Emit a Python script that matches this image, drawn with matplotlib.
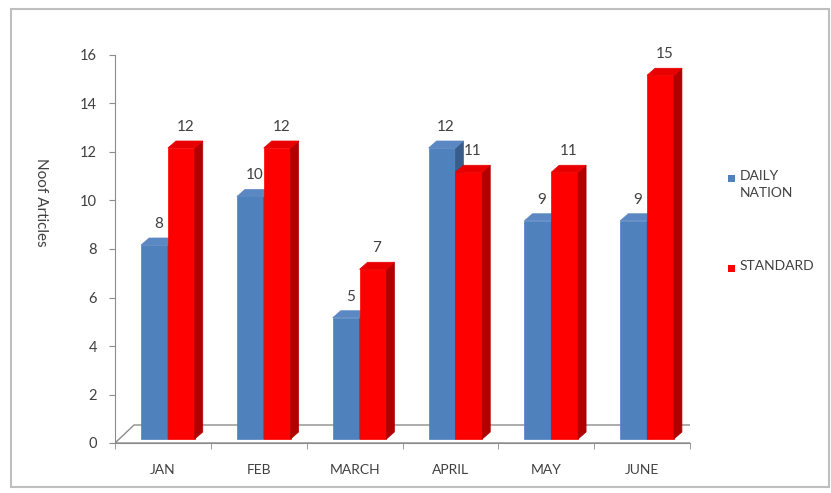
import matplotlib
matplotlib.use('Agg')
import matplotlib.pyplot as plt
from matplotlib.patches import Polygon, Rectangle

months = ['JAN', 'FEB', 'MARCH', 'APRIL', 'MAY', 'JUNE']
daily_nation = [8, 10, 5, 12, 9, 9]
standard = [12, 12, 7, 11, 11, 15]
series_names = ['DAILY\nNATION', 'STANDARD']
y_ticks = [0, 2, 4, 6, 8, 10, 12, 14, 16]

TXT = '#404040'
GRID = '#8c8c8c'
BLUE = ('#4F81BD', '#385D8A', '#5B87C2')   # front, side, top
RED = ('#FF0000', '#B00000', '#E80000')

DPI = 100
BAR_W = 0.28
SHIFT = (5, 4)      # px: bars sit a bit back on the floor
DEPTH = (8, 7)      # px: visible depth of each bar
FLOOR = (19, 18)    # px: depth of the floor


def px(ax, x, y):
    return ax.transData.transform((x, y))


def bar3d(ax, x0, h, colors):
    front, side, top = colors
    sx, sy = SHIFT
    dx, dy = DEPTH
    (ax0, ay0) = px(ax, x0, 0)
    (ax1, ay1) = px(ax, x0 + BAR_W, h)
    ax0 += sx; ax1 += sx; ay0 += sy; ay1 += sy
    faces = [
        ([(ax0, ay0), (ax1, ay0), (ax1, ay1), (ax0, ay1)], front),
        ([(ax1, ay0), (ax1 + dx, ay0 + dy), (ax1 + dx, ay1 + dy), (ax1, ay1)], side),
        ([(ax0, ay1), (ax1, ay1), (ax1 + dx, ay1 + dy), (ax0 + dx, ay1 + dy)], top),
    ]
    for verts, c in faces:
        ax.add_patch(Polygon(verts, closed=True, facecolor=c, edgecolor=c,
                             linewidth=0.5, transform=None, zorder=3))
    cx = (ax0 + ax1) / 2 + dx / 2
    fig = ax.figure
    fx, fy = fig.transFigure.inverted().transform((cx, ay1 + dy + 7))
    fig.text(fx, fy, str(h), ha='center', va='bottom', fontsize=11, color=TXT)


plt.rcParams['font.family'] = ['Lato', 'DejaVu Sans']

fig = plt.figure(figsize=(8.31, 4.93), dpi=DPI)
fig.patches.append(Rectangle((11 / 831, 6 / 493), 818 / 831, 478 / 493,
                             transform=fig.transFigure, fill=False,
                             edgecolor='#bfbfbf', linewidth=1.5))

ax = fig.add_axes([115 / 831, 1 - 443 / 493, 575 / 831, 388 / 493])
ax.set_xlim(-0.5, len(months) - 0.5)
ax.set_ylim(0, 16)
ax.patch.set_alpha(0)

for side in ['top', 'right']:
    ax.spines[side].set_visible(False)
for side in ['left', 'bottom']:
    ax.spines[side].set_color(GRID)

ax.set_yticks(y_ticks)
ax.tick_params(axis='y', colors=GRID, labelcolor=TXT, labelsize=10.5,
               length=4, pad=9)
ax.set_xticks(range(len(months)))
ax.set_xticklabels(months)
ax.set_xticks([i + 0.5 for i in range(-1, len(months))], minor=True)
ax.tick_params(axis='x', which='major', length=0, pad=15,
               labelcolor=TXT, labelsize=10)
ax.tick_params(axis='x', which='minor', length=4, colors=GRID)

ax.set_ylabel('Noof Articles', rotation=270, labelpad=22, fontsize=11, color=TXT)
ax.yaxis.set_label_coords(-0.14, 0.62)

# floor outline
fx, fy = FLOOR
(l, b) = px(ax, -0.5, 0)
(r, _) = px(ax, len(months) - 0.5, 0)
ax.add_patch(Polygon([(l, b), (r, b), (r + fx, b + fy), (l + fx, b + fy)],
                     closed=True, fill=False, edgecolor=GRID, linewidth=1,
                     transform=None, zorder=1))

for i in range(len(months)):
    bar3d(ax, i - BAR_W, daily_nation[i], BLUE)
    bar3d(ax, i, standard[i], RED)

# legend
for (ly, name, c) in [(178, series_names[0], BLUE[0]), (268, series_names[1], RED[0])]:
    fig.patches.append(Rectangle((728 / 831, 1 - (ly + 4) / 493), 7 / 831, 7 / 493,
                                 transform=fig.transFigure, facecolor=c,
                                 edgecolor='none'))
    fig.text(740 / 831, 1 - (ly - 8) / 493, name, ha='left', va='top',
             fontsize=10, color=TXT, linespacing=1.5)

fig.savefig('out.png', dpi=DPI)
